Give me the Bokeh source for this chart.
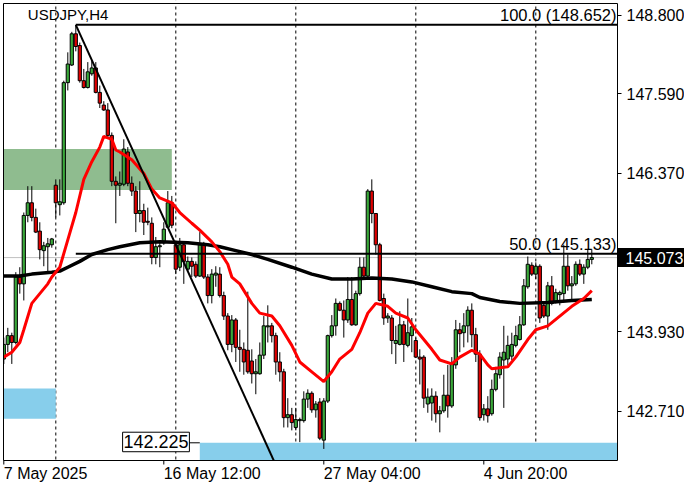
from bokeh.plotting import figure
from bokeh.models import Range1d, FixedTicker, Span, Label, ColumnDataSource, PrintfTickFormatter, LinearAxis
from bokeh.core.properties import value
from bokeh.embed import file_html
from bokeh.resources import INLINE

symbol = "USDJPY,H4"

opens = [143.513, 143.738, 143.873, 143.768, 144.774, 144.669, 145.721, 145.916, 145.691, 145.480,
         145.180, 145.240, 145.270, 146.186, 145.886, 145.916, 147.763, 148.034, 148.514, 148.334,
         147.793, 147.688, 147.899, 147.989, 147.613, 147.418, 147.343, 146.952, 146.246, 146.186,
         146.201, 146.697, 146.216, 146.096, 145.751, 145.796, 145.631, 145.601, 145.075, 145.240,
         145.300, 145.540, 145.916, 145.270, 144.925, 145.270, 144.895, 145.015, 144.970, 144.789,
         145.270, 144.774, 144.489, 144.804, 144.819, 144.489, 144.174, 143.738, 144.114, 143.693,
         143.663, 143.648, 143.483, 143.287, 143.287, 143.573, 144.008, 144.024, 143.873, 143.468,
         143.317, 142.612, 142.657, 142.461, 142.566, 142.566, 142.897, 142.987, 142.732, 142.852,
         142.266, 142.867, 143.873, 144.024, 144.369, 144.264, 144.114, 144.429, 144.039, 144.519,
         144.925, 144.789, 146.096, 145.751, 145.270, 144.444, 144.144, 144.144, 143.753, 143.738,
         144.039, 143.723, 143.873, 143.798, 143.543, 143.543, 142.822, 142.837, 142.942, 142.672,
         142.717, 142.957, 142.792, 143.423, 143.963, 143.918, 144.024, 144.264, 143.888, 143.588,
         142.657, 142.747, 142.672, 143.047, 143.272, 143.498, 143.513, 143.558, 143.723, 143.813,
         144.039, 144.624, 144.955, 144.819, 144.940, 144.339, 144.174, 144.639, 144.399, 144.504,
         144.519, 144.940, 144.639, 144.669, 144.970, 144.819, 144.925, 145.045]

highs = [143.843, 143.993, 143.918, 144.849, 144.925, 145.766, 146.171, 146.171, 145.826, 145.616,
         145.315, 145.375, 145.375, 146.276, 146.276, 147.793, 148.229, 148.544, 148.652, 148.379,
         147.974, 148.079, 148.094, 148.079, 147.718, 147.478, 147.448, 146.997, 146.321, 146.397,
         146.892, 146.772, 146.321, 146.171, 146.246, 145.901, 145.841, 145.691, 145.390, 145.300,
         145.616, 146.096, 146.021, 145.315, 145.375, 145.315, 145.090, 145.075, 145.015, 145.465,
         145.315, 144.819, 144.895, 144.940, 144.925, 144.549, 144.219, 144.189, 144.144, 143.963,
         143.768, 144.549, 143.663, 143.513, 143.768, 144.174, 144.339, 144.069, 143.918, 143.618,
         143.363, 142.912, 142.762, 142.762, 142.612, 143.017, 143.047, 143.017, 142.867, 142.912,
         142.912, 143.888, 144.189, 144.444, 144.399, 144.414, 144.774, 144.774, 144.564, 145.075,
         145.075, 146.126, 146.276, 145.751, 145.300, 144.519, 144.219, 144.189, 144.024, 144.249,
         144.099, 144.444, 144.144, 143.843, 143.663, 143.573, 143.062, 143.062, 143.017, 142.792,
         143.272, 143.423, 143.543, 144.114, 144.069, 144.219, 144.324, 144.369, 143.993, 143.648,
         142.822, 142.942, 143.197, 143.393, 143.618, 144.024, 143.873, 143.918, 144.024, 144.174,
         144.744, 145.090, 145.000, 145.000, 144.970, 144.399, 144.699, 144.789, 144.594, 144.564,
         145.270, 145.120, 144.789, 145.015, 145.045, 144.970, 145.195, 145.195]

lows = [143.438, 143.618, 143.438, 143.738, 144.519, 144.414, 145.616, 145.631, 145.450, 145.045,
        144.940, 144.849, 145.225, 145.691, 145.721, 145.886, 147.643, 148.019, 148.244, 147.763,
        147.673, 147.673, 147.869, 147.598, 147.373, 147.328, 146.922, 146.171, 145.601, 146.021,
        146.171, 146.171, 146.021, 145.465, 145.616, 145.420, 145.571, 144.970, 144.970, 144.925,
        145.270, 145.525, 145.525, 144.819, 144.865, 144.669, 144.865, 144.774, 144.759, 144.774,
        144.744, 144.369, 144.369, 144.624, 144.459, 144.114, 143.648, 143.618, 143.468, 143.317,
        143.272, 143.287, 143.137, 142.972, 143.272, 143.513, 143.768, 143.768, 143.272, 143.167,
        142.461, 142.461, 142.416, 142.416, 142.236, 142.536, 142.762, 142.687, 142.612, 142.266,
        142.131, 142.837, 143.843, 143.873, 144.249, 143.843, 144.069, 144.024, 144.024, 144.489,
        144.744, 144.774, 145.601, 145.120, 144.399, 144.039, 144.069, 143.588, 143.438, 143.723,
        143.468, 143.693, 143.618, 143.528, 143.122, 142.762, 142.687, 142.566, 142.536, 142.386,
        142.687, 142.612, 142.762, 143.363, 143.618, 143.693, 143.768, 143.693, 143.468, 142.566,
        142.566, 142.536, 142.642, 143.017, 143.212, 142.762, 143.423, 143.498, 143.693, 143.798,
        144.024, 144.594, 144.789, 144.744, 144.069, 144.144, 143.963, 144.339, 144.369, 144.339,
        144.414, 144.564, 144.414, 144.639, 144.789, 144.669, 144.895, 144.970]

closes = [143.738, 143.873, 143.768, 144.774, 144.669, 145.721, 145.916, 145.691, 145.465, 145.195,
          145.255, 145.285, 145.360, 145.916, 145.931, 147.763, 148.049, 148.514, 148.319, 147.793,
          147.688, 147.929, 147.989, 147.613, 147.448, 147.343, 146.952, 146.246, 146.186, 146.216,
          146.742, 146.216, 146.096, 145.751, 145.796, 145.616, 145.616, 145.075, 145.240, 145.255,
          145.510, 145.916, 145.571, 144.895, 145.270, 145.015, 145.015, 144.940, 144.789, 145.270,
          144.774, 144.489, 144.819, 144.834, 144.489, 144.174, 143.738, 144.114, 143.693, 143.663,
          143.468, 143.317, 143.287, 143.317, 143.573, 144.024, 144.024, 143.873, 143.468, 143.317,
          142.612, 142.657, 142.536, 142.582, 142.582, 142.897, 142.987, 142.732, 142.822, 142.296,
          142.867, 143.873, 144.024, 144.369, 144.264, 144.114, 144.429, 144.039, 144.519, 144.925,
          144.789, 146.096, 145.751, 145.270, 144.414, 144.144, 144.174, 143.798, 143.798, 144.039,
          143.738, 143.918, 144.008, 143.543, 143.513, 142.912, 142.927, 142.942, 142.672, 142.717,
          142.957, 142.792, 143.438, 143.963, 143.903, 144.024, 144.264, 143.888, 143.588, 142.612,
          142.747, 142.642, 143.047, 143.287, 143.543, 143.618, 143.723, 143.738, 143.873, 144.039,
          144.639, 144.970, 144.819, 144.940, 144.144, 144.174, 144.639, 144.369, 144.534, 144.534,
          144.940, 144.639, 144.669, 144.970, 144.819, 144.925, 145.045, 145.073]

# red moving average (bar index, value)
fast_bar = [0, 2, 4, 5, 7, 9, 11, 12, 14, 16, 18, 20, 22, 24, 25, 27, 28, 29, 32, 35,
            37, 39, 42, 44, 47, 49, 52, 54, 56, 57, 59, 62, 64, 67, 69, 72, 74, 77, 80, 82,
            84, 87, 89, 91, 93, 96, 98, 101, 103, 107, 109, 112, 114, 117, 119, 121, 122, 126, 128, 131,
            133, 136, 139, 142, 145, 147]
fast_val = [143.543, 143.618, 143.768, 143.963, 144.369, 144.519, 144.669, 144.774, 144.925, 145.345,
            145.766, 146.276, 146.547, 146.772, 146.937, 146.892, 146.727, 146.697, 146.577, 146.367,
            146.126, 145.991, 145.916, 145.766, 145.601, 145.495, 145.315, 145.165, 144.970, 144.774,
            144.669, 144.369, 144.219, 144.174, 144.024, 143.723, 143.468, 143.317, 143.167, 143.317,
            143.513, 143.663, 143.918, 144.219, 144.369, 144.324, 144.219, 144.144, 143.963, 143.663,
            143.498, 143.438, 143.543, 143.648, 143.588, 143.423, 143.363, 143.393, 143.543, 143.813,
            143.963, 144.024, 144.174, 144.324, 144.444, 144.564]

# black moving average (bar index, value)
slow_bar = [0, 4, 7, 12, 14, 16, 19, 22, 26, 29, 34, 39, 46, 51, 54, 58, 62, 66, 72, 77,
            82, 87, 92, 97, 102, 107, 112, 117, 119, 124, 129, 136, 142, 147]
slow_val = [144.789, 144.789, 144.819, 144.849, 144.865, 144.925, 145.015, 145.120, 145.195, 145.240,
            145.300, 145.315, 145.300, 145.270, 145.240, 145.180, 145.120, 145.045, 144.925, 144.819,
            144.744, 144.744, 144.759, 144.744, 144.699, 144.624, 144.549, 144.519, 144.459, 144.399,
            144.369, 144.384, 144.414, 144.429]

# Fibonacci from swing high to low
fib_bars = [18, 70]
fib_prices = [148.652, 141.614]
fib_levels = [100.0, 50.0]
fib_level_prices = [148.652, 145.133]

# zones: (bar left, bar right, price top, price bottom); None = chart edge
zone_green = (None, 42, 146.742, 146.111)
zone_blue_left = (None, 13, 143.062, 142.596)
zone_blue_bottom = (49, None, 142.225, None)
zone_label_price = 142.225

week_starts = [13, 43, 73, 103, 133]
time_ticks = [0, 40, 80, 120]
time_labels = ["7 May 2025", "16 May 12:00", "27 May 04:00", "4 Jun 20:00"]
price_ticks = [142.710, 143.930, 146.370, 147.590, 148.800]
last_price = 145.073

# ---------------- layout (pixels) ----------------
FONT = "Liberation Sans"
GREEN = "#3aa83a"
RED = "#e00000"
W, H = 684, 484
BAR_PX = 4.0
IN_L, IN_R, IN_T, IN_B = 3, 617, 3, 460       # inner chart box in pixels
Y_TOP, Y_BOT = 148.98, 141.953                 # prices at inner top / bottom
PPU = (IN_B - IN_T) / (Y_TOP - Y_BOT)          # pixels per price unit
X_START = -3.3 / BAR_PX
X_END = X_START + W / BAR_PX
XL = X_START + IN_L / BAR_PX
XR = X_START + IN_R / BAR_PX
Y_START = Y_BOT - (H - IN_B) / PPU
Y_END = Y_TOP + IN_T / PPU

bars = list(range(len(opens)))
tops = [max(o, c) for o, c in zip(opens, closes)]
bottoms = [min(o, c) for o, c in zip(opens, closes)]
colors = [GREEN if c >= o else RED for o, c in zip(opens, closes)]
src = ColumnDataSource(dict(x=bars, top=tops, bottom=bottoms, high=highs, low=lows, color=colors))

p = figure(width=W, height=H, output_backend="svg", toolbar_location=None,
           x_range=Range1d(X_START, X_END), y_range=Range1d(Y_START, Y_END),
           x_axis_location=None, y_axis_location=None, min_border=0)
p.grid.visible = False
p.outline_line_color = None
p.background_fill_color = "white"
p.border_fill_color = "white"

def _l(v): return XL if v is None else v
def _r(v): return XR if v is None else v
def _b(v): return Y_BOT if v is None else v

# zones
for z, col in [(zone_green, "#8fbc8f"), (zone_blue_left, "#87ceeb"), (zone_blue_bottom, "#87ceeb")]:
    p.quad(left=[_l(z[0])], right=[_r(z[1])], top=[z[2]], bottom=[_b(z[3])], fill_color=col, line_color=None)

# week separators
for b in week_starts:
    p.add_layout(Span(location=b, dimension="height", line_color="black", line_width=1,
                      line_dash="3 3", level="underlay"))

# current price line
p.add_layout(Span(location=last_price, dimension="width", line_color="#c0c0c0", line_width=1,
                  level="underlay"))

# candles
p.segment(x0="x", y0="low", x1="x", y1="high", source=src, line_color="black", line_width=1)
p.vbar(x="x", top="top", bottom="bottom", width=0.8, source=src, fill_color="color",
       line_color="black", line_width=1)

# moving averages
p.line(slow_bar, slow_val, line_color="black", line_width=3.5)
p.line(fast_bar, fast_val, line_color="#ff0000", line_width=3)

# fibonacci
p.line(fib_bars, fib_prices, line_color="black", line_width=2)
for lvl, pr in zip(fib_levels, fib_level_prices):
    p.line([fib_bars[0], XR], [pr, pr], line_color="black", line_width=2)
    p.add_layout(Label(x=XR, y=pr, x_offset=-1, y_offset=1, text=f"{lvl:.1f} ({pr:.3f})",
                       text_align="right", text_baseline="bottom", text_font=FONT,
                       text_font_size="16.5px", text_color="black"))

# white margins around the inner chart box (axes area)
p.quad(left=[X_START - 5, XR, X_START - 5, X_START - 5], right=[XL, X_END + 5, X_END + 5, X_END + 5],
       top=[Y_END + 1, Y_END + 1, Y_END + 1, Y_BOT], bottom=[Y_START - 1, Y_START - 1, Y_TOP, Y_START - 1],
       fill_color="white", line_color=None)

# zone price label box
bx0, bx1 = 29.7, 46.4
p.quad(left=[bx0], right=[bx1], top=[142.388], bottom=[142.088], fill_color="white",
       line_color="black", line_width=1)
p.line([bx1, zone_blue_bottom[0]], [zone_label_price, zone_label_price], line_color="black", line_width=1)
p.text(x=[(bx0 + bx1) / 2], y=[142.238], text=[f"{zone_label_price:.3f}"], text_align="center",
       text_baseline="middle", text_font=value(FONT), text_font_size=value("18px"), text_color="black")

# inner box border
p.line([XL, XR, XR, XL, XL], [Y_TOP, Y_TOP, Y_BOT, Y_BOT, Y_TOP], line_color="black", line_width=1)

# time tick marks
tick_len = 4 / PPU
p.segment(x0=time_ticks, x1=time_ticks, y0=[Y_BOT] * len(time_ticks), y1=[Y_BOT - tick_len] * len(time_ticks),
          line_color="black", line_width=1)

# symbol title
p.add_layout(Label(x=6, y=Y_TOP, y_offset=-2, text=symbol, text_baseline="top", text_align="left",
                   text_font=FONT, text_font_size="15px", text_color="black"))

# price axis on the right edge of the chart box
ya = LinearAxis(ticker=FixedTicker(ticks=price_ticks), formatter=PrintfTickFormatter(format="%.3f"),
                fixed_location=XR, axis_line_color=None, minor_tick_line_color=None,
                major_tick_in=0, major_tick_out=4, major_tick_line_color="black",
                major_label_standoff=5, major_label_text_font=FONT, major_label_text_font_size="16px",
                major_label_text_color="black")
p.add_layout(ya, "right")

# current price marker: a thick tick drawn as a black box with the price in white
pa = LinearAxis(ticker=FixedTicker(ticks=[last_price]), formatter=PrintfTickFormatter(format="%.3f"),
                fixed_location=XR, axis_line_color=None, minor_tick_line_color=None,
                major_tick_in=0, major_tick_out=72, major_tick_line_width=19,
                major_tick_line_color="black", major_tick_line_cap="butt",
                major_label_standoff=-64, major_label_text_color="white",
                major_label_text_font=FONT, major_label_text_font_size="16px")
p.add_layout(pa, "right")

# time axis labels, starting at their tick
half_w_bars = [10.45, 12.1, 12.1, 10.45]
label_pos = [t + w for t, w in zip(time_ticks, half_w_bars)]
xl = LinearAxis(ticker=FixedTicker(ticks=label_pos), fixed_location=Y_BOT,
                major_label_overrides={pos: l for pos, l in zip(label_pos, time_labels)},
                major_label_text_font=FONT, major_label_text_font_size="16px",
                major_label_text_color="black", major_label_standoff=4,
                major_tick_in=0, major_tick_out=0, major_tick_line_color=None,
                minor_tick_line_color=None, axis_line_color=None)
p.add_layout(xl, "below")

open("out.html", "w").write(file_html(p, INLINE))
